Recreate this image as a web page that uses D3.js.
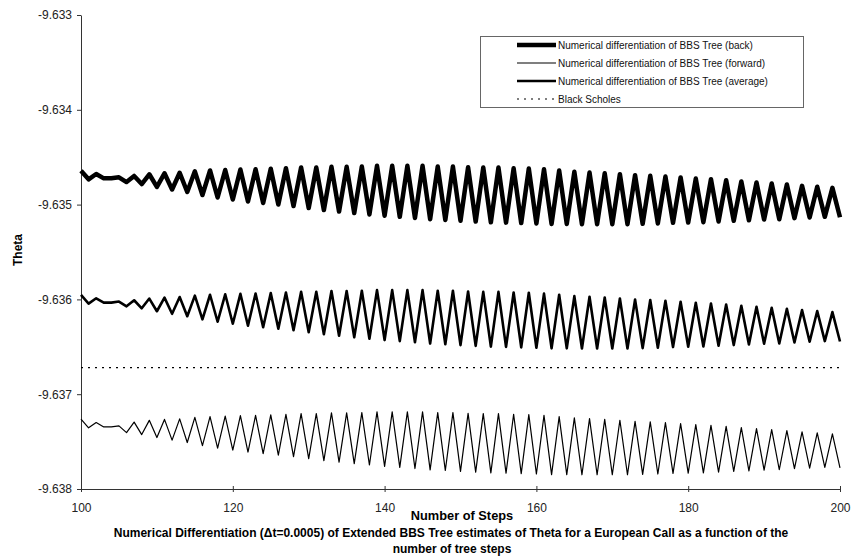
<!DOCTYPE html>
<html>
<head>
<meta charset="utf-8">
<script src="https://cdn.jsdelivr.net/npm/d3@7"></script>
<style>
body { margin: 0; background: #fff; }
text { font-family: "Liberation Sans", Arial, sans-serif; }
</style>
</head>
<body>
<script>
var w = 853;
var h = 556;

//Data - theta estimates, one per tree step (100..200)
var steps = d3.range(100, 201);

var back = [
  -9.634642, -9.634733, -9.634677, -9.634723, -9.634723, -9.634712, -9.634762, -9.634698, -9.634783, -9.634680,
  -9.634814, -9.634670, -9.634841, -9.634664, -9.634867, -9.634649, -9.634899, -9.634640, -9.634925, -9.634635,
  -9.634946, -9.634630, -9.634967, -9.634627, -9.634983, -9.634622, -9.634999, -9.634616, -9.635015, -9.634609,
  -9.635036, -9.634609, -9.635057, -9.634601, -9.635073, -9.634601, -9.635089, -9.634598, -9.635104, -9.634591,
  -9.635118, -9.634591, -9.635129, -9.634591, -9.635141, -9.634591, -9.635155, -9.634598, -9.635162, -9.634598,
  -9.635171, -9.634606, -9.635179, -9.634609, -9.635187, -9.634609, -9.635190, -9.634616, -9.635195, -9.634619,
  -9.635199, -9.634628, -9.635205, -9.634640, -9.635205, -9.634654, -9.635207, -9.634661, -9.635207, -9.634669,
  -9.635207, -9.634679, -9.635207, -9.634690, -9.635203, -9.634696, -9.635199, -9.634704, -9.635192, -9.634714,
  -9.635189, -9.634725, -9.635186, -9.634732, -9.635178, -9.634743, -9.635171, -9.634756, -9.635165, -9.634767,
  -9.635157, -9.634777, -9.635154, -9.634788, -9.635143, -9.634802, -9.635136, -9.634812, -9.635129, -9.634823,
  -9.635133
];

var forward = [
  -9.637264, -9.637355, -9.637299, -9.637345, -9.637345, -9.637334, -9.637405, -9.637294, -9.637426, -9.637276,
  -9.637457, -9.637266, -9.637484, -9.637260, -9.637510, -9.637245, -9.637542, -9.637236, -9.637568, -9.637231,
  -9.637589, -9.637226, -9.637610, -9.637223, -9.637626, -9.637218, -9.637642, -9.637212, -9.637658, -9.637205,
  -9.637679, -9.637205, -9.637700, -9.637197, -9.637716, -9.637197, -9.637732, -9.637194, -9.637747, -9.637187,
  -9.637761, -9.637187, -9.637772, -9.637187, -9.637784, -9.637187, -9.637798, -9.637194, -9.637805, -9.637194,
  -9.637814, -9.637202, -9.637822, -9.637205, -9.637830, -9.637205, -9.637833, -9.637212, -9.637838, -9.637215,
  -9.637842, -9.637224, -9.637848, -9.637236, -9.637848, -9.637250, -9.637850, -9.637257, -9.637850, -9.637265,
  -9.637850, -9.637275, -9.637850, -9.637286, -9.637846, -9.637292, -9.637842, -9.637300, -9.637835, -9.637310,
  -9.637832, -9.637321, -9.637829, -9.637328, -9.637821, -9.637339, -9.637814, -9.637352, -9.637808, -9.637363,
  -9.637800, -9.637373, -9.637797, -9.637384, -9.637786, -9.637398, -9.637779, -9.637408, -9.637772, -9.637419,
  -9.637776
];

var average = [
  -9.635953, -9.636044, -9.635988, -9.636034, -9.636034, -9.636023, -9.636073, -9.636009, -9.636094, -9.635991,
  -9.636125, -9.635981, -9.636152, -9.635975, -9.636178, -9.635960, -9.636210, -9.635951, -9.636236, -9.635946,
  -9.636257, -9.635941, -9.636278, -9.635938, -9.636294, -9.635933, -9.636310, -9.635927, -9.636326, -9.635920,
  -9.636347, -9.635920, -9.636368, -9.635912, -9.636384, -9.635912, -9.636400, -9.635909, -9.636415, -9.635902,
  -9.636429, -9.635902, -9.636440, -9.635902, -9.636452, -9.635902, -9.636466, -9.635909, -9.636473, -9.635909,
  -9.636482, -9.635917, -9.636490, -9.635920, -9.636498, -9.635920, -9.636501, -9.635927, -9.636506, -9.635930,
  -9.636510, -9.635939, -9.636516, -9.635951, -9.636516, -9.635965, -9.636518, -9.635972, -9.636518, -9.635980,
  -9.636518, -9.635990, -9.636518, -9.636001, -9.636514, -9.636007, -9.636510, -9.636015, -9.636503, -9.636025,
  -9.636500, -9.636036, -9.636497, -9.636043, -9.636489, -9.636054, -9.636482, -9.636067, -9.636476, -9.636078,
  -9.636468, -9.636088, -9.636465, -9.636099, -9.636454, -9.636113, -9.636447, -9.636123, -9.636440, -9.636134,
  -9.636444
];

var blackScholes = -9.63672;

var xTicks = [100, 120, 140, 160, 180, 200];
var yTicks = [-9.633, -9.634, -9.635, -9.636, -9.637, -9.638];

var legendLabels = [
  "Numerical differentiation of BBS Tree (back)",
  "Numerical differentiation of BBS Tree (forward)",
  "Numerical differentiation of BBS Tree (average)",
  "Black Scholes"
];

//Series styling table built from the arrays above
var series = [
  { values: back,    width: 4.5, dash: null },
  { values: forward, width: 1.2, dash: null },
  { values: average, width: 2.6, dash: null },
  { values: steps.map(function() { return blackScholes; }), width: 1.2, dash: "2,5" }
];

//Create SVG element
var svg = d3.select("body")
            .append("svg")
            .attr("width", w)
            .attr("height", h);

var plotLeft = 81, plotRight = 840, plotTop = 15, plotBottom = 489;

var xScale = d3.scaleLinear()
               .domain([100, 200])
               .range([plotLeft, plotRight]);

var yScale = d3.scaleLinear()
               .domain([-9.638, -9.633])
               .range([plotBottom, plotTop]);

//Axes
var yAxis = d3.axisLeft(yScale)
              .tickValues(yTicks)
              .tickSize(4)
              .tickSizeOuter(0)
              .tickPadding(5)
              .tickFormat(function(d) { return d.toFixed(3); });

var xAxis = d3.axisBottom(xScale)
              .tickValues(xTicks)
              .tickSize(3)
              .tickSizeOuter(0)
              .tickPadding(11)
              .tickFormat(d3.format("d"));

var gy = svg.append("g")
    .attr("class", "axis")
    .attr("transform", "translate(" + plotLeft + ",0)")
    .call(yAxis);

var gx = svg.append("g")
    .attr("class", "axis")
    .attr("transform", "translate(0," + plotBottom + ")")
    .call(xAxis);

// ticks on the x axis cross the line
gx.selectAll(".tick line").attr("y1", -3).attr("y2", 3);

svg.selectAll(".axis .domain").attr("stroke", "#333").attr("stroke-width", 1);
svg.selectAll(".axis .tick line").attr("stroke", "#333");
svg.selectAll(".axis text")
   .attr("font-family", "Liberation Sans, Arial, sans-serif")
   .attr("font-size", "12px")
   .attr("fill", "#222");

//Lines
var line = d3.line()
             .x(function(d, i) { return xScale(steps[i]); })
             .y(function(d) { return yScale(d); });

svg.selectAll("path.series")
   .data(series)
   .enter()
   .append("path")
   .attr("class", "series")
   .attr("d", function(d) { return line(d.values); })
   .attr("fill", "none")
   .attr("stroke", "#000")
   .attr("stroke-width", function(d) { return d.width; })
   .attr("stroke-linejoin", "round")
   .attr("stroke-dasharray", function(d) { return d.dash; });

//Legend
var legend = svg.append("g").attr("transform", "translate(480,36)");

legend.append("rect")
      .attr("x", 0.5)
      .attr("y", 0.5)
      .attr("width", 323)
      .attr("height", 71)
      .attr("fill", "#fff")
      .attr("stroke", "#666")
      .attr("stroke-width", 1);

var items = legend.selectAll("g.item")
      .data(series)
      .enter()
      .append("g")
      .attr("class", "item")
      .attr("transform", function(d, i) { return "translate(0," + (9 + i * 18) + ")"; });

items.append("line")
     .attr("x1", 37)
     .attr("x2", 76)
     .attr("stroke", "#000")
     .attr("stroke-width", function(d) { return d.width; })
     .attr("stroke-dasharray", function(d) { return d.dash; });

items.append("text")
     .attr("x", 78)
     .attr("dy", "0.35em")
     .attr("font-size", "10px")
     .attr("fill", "#111")
     .text(function(d, i) { return legendLabels[i]; });

//Titles
svg.append("text")
   .attr("transform", "translate(22,250) rotate(-90)")
   .attr("text-anchor", "middle")
   .attr("font-size", "12px")
   .attr("font-weight", "bold")
   .text("Theta");

svg.append("text")
   .attr("x", 462)
   .attr("y", 520)
   .attr("text-anchor", "middle")
   .attr("font-size", "12.8px")
   .attr("font-weight", "bold")
   .text("Number of Steps");

svg.append("text")
   .attr("x", 451)
   .attr("y", 537)
   .attr("text-anchor", "middle")
   .attr("font-size", "12px")
   .attr("font-weight", "bold")
   .text("Numerical Differentiation (\u0394t=0.0005) of Extended BBS Tree estimates of Theta for a European Call as a function of the");

svg.append("text")
   .attr("x", 452)
   .attr("y", 553)
   .attr("text-anchor", "middle")
   .attr("font-size", "12px")
   .attr("font-weight", "bold")
   .text("number of tree steps");
</script>
</body>
</html>
